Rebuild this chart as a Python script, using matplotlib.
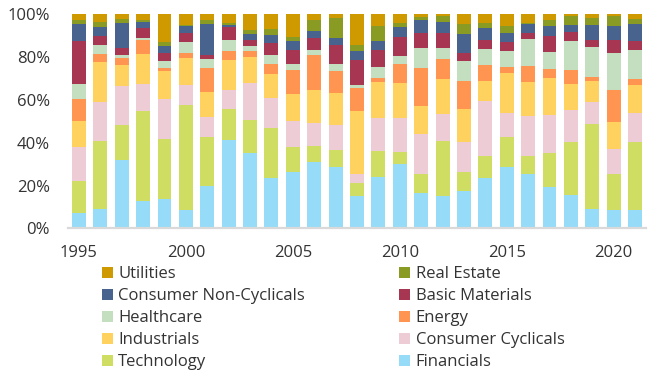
import numpy as np
import matplotlib
matplotlib.use("Agg")
from matplotlib import pyplot as plt

# Sector weights (%) per year
years = list(range(1995, 2022))

financials = [7.3, 9.2, 31.9, 12.9, 13.8, 8.6, 19.8, 41.2, 35.3, 23.5, 26.3, 30.9, 28.8, 15.1,
              24.1, 30.0, 16.6, 15.1, 17.6, 23.5, 28.8, 25.4, 19.4, 15.7, 9.2, 8.6, 8.6]
technology = [14.9, 31.7, 16.5, 42.0, 28.0, 49.1, 23.0, 14.6, 15.2, 23.3, 11.8, 7.5, 7.7, 6.2,
              12.1, 5.6, 8.8, 25.8, 8.7, 10.2, 14.0, 8.3, 15.9, 24.6, 39.5, 16.8, 31.7]
consumer_cyclicals = [15.9, 18.0, 18.0, 12.4, 18.7, 9.3, 9.3, 8.7, 17.5, 14.0, 12.1, 10.9, 11.9, 4.1,
                      15.3, 15.9, 18.6, 12.4, 14.0, 25.9, 11.2, 18.7, 17.7, 14.9, 10.2, 11.8, 13.7]
industrials = [12.1, 18.7, 9.8, 14.2, 13.1, 12.6, 11.5, 14.0, 12.1, 11.2, 12.5, 15.2, 14.9, 29.5,
               16.8, 16.5, 13.1, 16.5, 15.5, 9.3, 18.6, 15.9, 17.1, 12.1, 10.0, 12.4, 13.0]
energy = [10.3, 3.7, 3.4, 6.5, 1.2, 2.4, 11.2, 4.4, 2.8, 4.7, 11.2, 16.5, 10.3, 10.6,
          1.8, 8.7, 17.7, 9.4, 13.1, 7.5, 2.8, 7.4, 4.4, 6.6, 1.9, 14.9, 2.8]
healthcare = [6.8, 4.2, 1.3, 1.0, 3.4, 5.1, 4.2, 5.0, 2.3, 4.2, 2.8, 2.2, 3.1, 1.4,
              5.2, 3.7, 9.3, 4.9, 9.3, 7.4, 7.5, 12.8, 7.8, 13.7, 14.0, 17.5, 13.4]
basic_materials = [20.3, 4.2, 3.2, 4.5, 3.8, 4.2, 2.0, 6.2, 2.7, 5.7, 6.5, 5.6, 9.0, 11.6,
                   7.9, 9.0, 7.2, 7.2, 3.8, 4.1, 4.0, 2.8, 7.4, 4.0, 3.1, 5.9, 4.4]
consumer_non_cyclicals = [7.7, 4.2, 11.9, 2.9, 3.1, 3.1, 14.3, 0.9, 2.9, 3.8, 4.4, 3.4, 3.3, 4.4,
                          4.4, 4.7, 5.9, 5.0, 8.7, 5.6, 4.4, 4.0, 4.7, 3.4, 7.1, 6.5, 7.7]
real_estate = [2.1, 2.4, 1.7, 1.0, 2.0, 0.5, 2.1, 1.0, 1.9, 2.8, 1.8, 5.2, 9.3, 2.8,
               7.0, 1.9, 1.4, 2.8, 4.6, 2.5, 3.1, 0.7, 3.0, 4.1, 3.1, 4.7, 2.5]
utilities = [2.6, 3.7, 2.3, 2.6, 12.9, 5.1, 2.6, 4.0, 7.3, 6.8, 10.6, 2.6, 1.7, 14.3,
             5.4, 4.0, 1.4, 0.9, 4.7, 4.0, 5.6, 4.0, 2.6, 0.9, 1.9, 0.9, 2.2]

# bottom to top
series = [
    ('Financials', financials, '#96DBF8'),
    ('Technology', technology, '#CFDD62'),
    ('Consumer Cyclicals', consumer_cyclicals, '#EECCD6'),
    ('Industrials', industrials, '#FFD15E'),
    ('Energy', energy, '#FF9550'),
    ('Healthcare', healthcare, '#C3DFC0'),
    ('Basic Materials', basic_materials, '#A63652'),
    ('Consumer Non-Cyclicals', consumer_non_cyclicals, '#47638E'),
    ('Real Estate', real_estate, '#8A9B24'),
    ('Utilities', utilities, '#CF9A00'),
]

plt.rcParams['font.family'] = ['Open Sans', 'DejaVu Sans']
text_color = '#333333'

fig = plt.figure(figsize=(6.55, 3.76), dpi=100)
ax = fig.add_axes([0.1038, 0.3923, 0.8825, 0.5705])

# normalise each year to 100%
data = np.array([s[1] for s in series])
data = data / data.sum(axis=0) * 100

bars = {}
bottom = np.zeros(len(years))
for (name, _, color), vals in zip(series, data):
    bars[name] = ax.bar(years, vals, bottom=bottom, width=0.65, color=color, label=name, zorder=2)
    bottom += vals

ax.set_xlim(1994.49, 2021.51)
ax.set_ylim(0, 100)
ax.set_yticks([0, 20, 40, 60, 80, 100])
ax.set_yticklabels([f'{v}%' for v in [0, 20, 40, 60, 80, 100]])
ax.set_xticks([1995, 2000, 2005, 2010, 2015, 2020])
ax.tick_params(length=0, labelsize=12, labelcolor=text_color)
ax.tick_params(axis='y', pad=13)
ax.tick_params(axis='x', pad=12)
for side in ['top', 'right', 'left']:
    ax.spines[side].set_visible(False)
ax.spines['bottom'].set_color('#D9D9D9')
ax.spines['bottom'].set_linewidth(1.6)

order = ['Utilities', 'Consumer Non-Cyclicals', 'Healthcare', 'Industrials', 'Technology',
         'Real Estate', 'Basic Materials', 'Energy', 'Consumer Cyclicals', 'Financials']
leg = fig.legend([bars[n] for n in order], order, ncol=2, loc='upper left',
                 bbox_to_anchor=(0.1557, 0.292), frameon=False, fontsize=12,
                 handlelength=0.64, handleheight=0.64, handletextpad=0.34,
                 labelspacing=0.355, columnspacing=5.65, borderpad=0, borderaxespad=0)
for t in leg.get_texts():
    t.set_color(text_color)

fig.savefig('out.png', dpi=100)
